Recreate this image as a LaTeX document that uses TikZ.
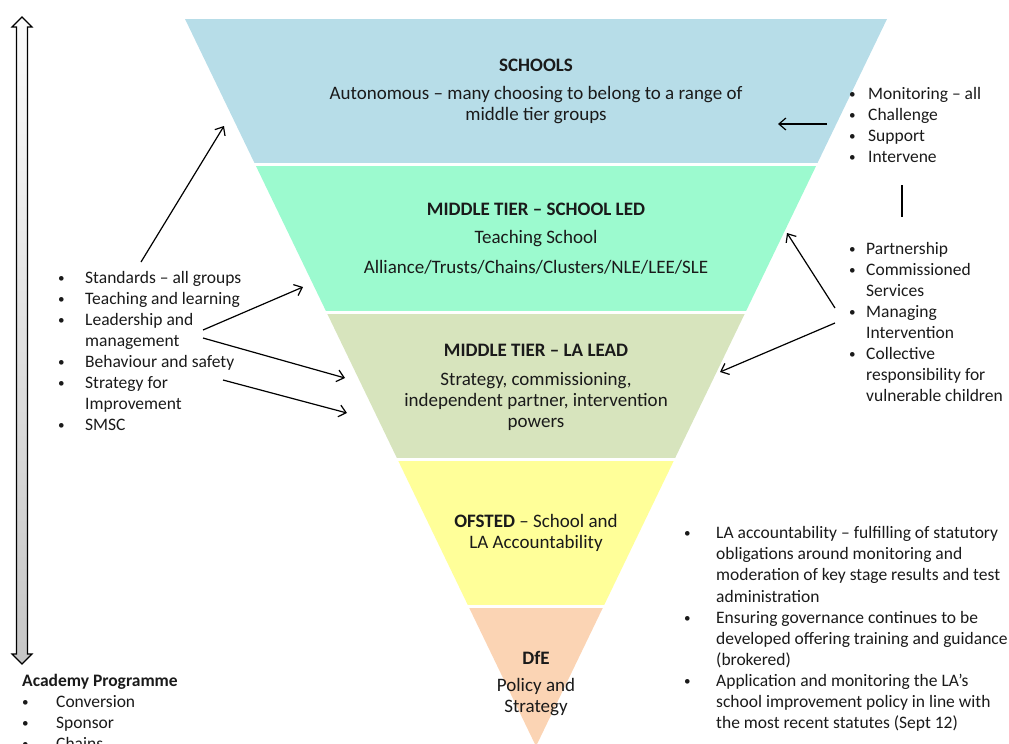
\documentclass[tikz,border=0pt]{standalone}
\usepackage{fontspec}
\setmainfont{Carlito}
\usetikzlibrary{arrows.meta}
\definecolor{cSchool}{HTML}{B7DDE8}
\definecolor{cMid}{HTML}{9CFACF}
\definecolor{cLA}{HTML}{D7E4BD}
\definecolor{cOf}{HTML}{FFFF99}
\definecolor{cDfE}{HTML}{FBD4B4}
\definecolor{ink}{HTML}{1A1A1A}
\newcommand{\dotb}{\raisebox{0.12ex}{\scalebox{0.75}{•}}}
\newcommand{\blt}[2]{\makebox[#1][l]{\dotb}#2}
\newcommand{\cnt}[2]{\hspace*{#1}#2}
\begin{document}
\begin{tikzpicture}[x=1pt,y=-1pt,
  txt/.style={inner sep=0pt,text=ink,font=\fontsize{17.5}{21.1}\selectfont},
  ctxt/.style={inner sep=0pt,text=ink,align=center,font=\fontsize{19}{21}\selectfont},
  ltxt/.style={txt,align=left},
  head/.style={inner sep=0pt,text=ink,font=\fontsize{19}{21}\selectfont\bfseries},
  conn/.style={draw=black,line width=1.2pt,-{Straight Barb[length=7pt,width=12pt,line width=1.2pt]}},
  plainline/.style={draw=black,line width=1.2pt}]
\useasboundingbox (0,0) rectangle (1009,744);
% inverted triangle bands
\begin{scope}
  \clip (185,19) -- (887,19) -- (536,746.3) -- cycle;
  \fill[cSchool] (0,19) rectangle (1009,163);
  \fill[cMid] (0,166) rectangle (1009,311);
  \fill[cLA] (0,314) rectangle (1009,458);
  \fill[cOf] (0,461) rectangle (1009,605);
  \fill[cDfE] (0,608) rectangle (1009,760);
\end{scope}
% big double arrow
\shade[top color=gray!3,bottom color=gray!45,draw=black,line width=1.2pt]
  (22,17) -- (32,27) -- (27.5,27) -- (27.5,654) -- (32,654) -- (22,664) -- (12,654) -- (16.5,654) -- (16.5,27) -- (12,27) -- cycle;
% band texts
\node[head] (schT) at (536,65) {SCHOOLS};
\node[ctxt] (schB) at (536,105) {Autonomous – many choosing to belong to a range of\\middle tier groups};
\node[head] (midT) at (536,209) {MIDDLE TIER – SCHOOL LED};
\node[ctxt] (midB1) at (536,238.5) {Teaching School};
\node[ctxt] (midB2) at (536,267.5) {Alliance/Trusts/Chains/Clusters/NLE/LEE/SLE};
\node[head] (laT) at (536,350.5) {MIDDLE TIER – LA LEAD};
\node[ctxt] (laB) at (536,401) {Strategy, commissioning,\\independent partner, intervention\\powers};
\node[ctxt] (ofB) at (536,533) {\textbf{OFSTED} – School and\\LA Accountability};
\node[head] (dfT) at (536,657.5) {DfE};
\node[ctxt] (dfB) at (536,697) {Policy and\\Strategy};
% side lists
\node[ltxt,anchor=west] (leftL) at (58,351) {%
\blt{27pt}{Standards – all groups}\\
\blt{27pt}{Teaching and learning}\\
\blt{27pt}{Leadership and}\\
\cnt{27pt}{management}\\
\blt{27pt}{Behaviour and safety}\\
\blt{27pt}{Strategy for}\\
\cnt{27pt}{Improvement}\\
\blt{27pt}{SMSC}};
\node[ltxt,anchor=west] (rTop) at (849,125) {%
\blt{19pt}{Monitoring – all}\\
\blt{19pt}{Challenge}\\
\blt{19pt}{Support}\\
\blt{19pt}{Intervene}};
\node[ltxt,anchor=west] (rMid) at (849,322) {%
\blt{17pt}{Partnership}\\
\blt{17pt}{Commissioned}\\
\cnt{17pt}{Services}\\
\blt{17pt}{Managing}\\
\cnt{17pt}{Intervention}\\
\blt{17pt}{Collective}\\
\cnt{17pt}{responsibility for}\\
\cnt{17pt}{vulnerable children}};
\node[ltxt,anchor=west] (rBot) at (684,629) {%
\blt{32pt}{LA accountability – fulfilling of statutory}\\
\cnt{32pt}{obligations around monitoring and}\\
\cnt{32pt}{moderation of key stage results and test}\\
\cnt{32pt}{administration}\\
\blt{32pt}{Ensuring governance continues to be}\\
\cnt{32pt}{developed offering training and guidance}\\
\cnt{32pt}{(brokered)}\\
\blt{32pt}{Application and monitoring the LA’s}\\
\cnt{32pt}{school improvement policy in line with}\\
\cnt{32pt}{the most recent statutes (Sept 12)}};
\node[ltxt,anchor=west] (acad) at (22,712) {%
\textbf{Academy Programme}\\
\blt{34pt}{Conversion}\\
\blt{34pt}{Sponsor}\\
\blt{34pt}{Chains}};
% connector end points
\coordinate (a1s) at (141,262); \coordinate (a1e) at (224,126);
\coordinate (a2s) at (203,330); \coordinate (a2e) at (303,287);
\coordinate (a3s) at (203,338); \coordinate (a3e) at (345,378);
\coordinate (a4s) at (223,380); \coordinate (a4e) at (347,413);
\coordinate (a5s) at (827,124); \coordinate (a5e) at (778,124);
\coordinate (l6s) at (902,185); \coordinate (l6e) at (902,217);
\coordinate (a7s) at (835,308); \coordinate (a7e) at (787,233);
\coordinate (a8s) at (835,323); \coordinate (a8e) at (720,372);
\draw[conn] (a1s) -- (a1e);
\draw[conn] (a2s) -- (a2e);
\draw[conn] (a3s) -- (a3e);
\draw[conn] (a4s) -- (a4e);
\draw[conn] (a5s) -- (a5e);
\draw[plainline] (l6s) -- (l6e);
\draw[conn] (a7s) -- (a7e);
\draw[conn] (a8s) -- (a8e);
\end{tikzpicture}
\end{document}
